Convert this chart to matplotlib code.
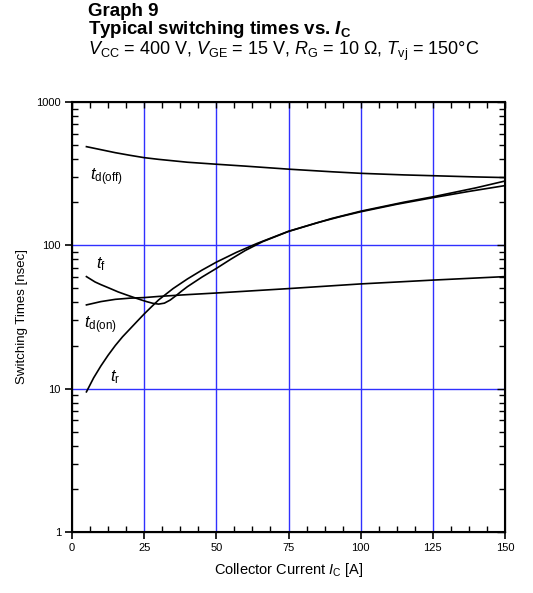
import numpy as np
import matplotlib
matplotlib.use("Agg")
import matplotlib.pyplot as plt
from matplotlib.ticker import MultipleLocator, LogLocator, NullFormatter, FixedLocator

plt.rcParams['font.family'] = ['Liberation Sans', 'DejaVu Sans']
plt.rcParams['mathtext.fontset'] = 'custom'
plt.rcParams['mathtext.rm'] = 'Liberation Sans'
plt.rcParams['mathtext.it'] = 'Liberation Sans:italic'
plt.rcParams['mathtext.bf'] = 'Liberation Sans:bold'
plt.rcParams['mathtext.bfit'] = 'Liberation Sans:bold:italic'

# values (nsec)
x_tdoff = [5, 10, 15, 20, 25, 30, 40, 50, 60, 75, 90, 100, 115, 125, 140, 150]
tdoff = [488, 465, 443, 425, 409, 398, 380, 368, 357, 340, 326, 318, 310, 306, 300, 297]

x_tdon = [5, 10, 15, 20, 25, 30, 40, 50, 75, 100, 125, 150]
tdon = [38.4, 40.5, 42, 42.8, 43.2, 44, 45.3, 46.5, 49.9, 53.8, 57.2, 60.5]

x_tf = [5, 8, 10, 13, 16, 19, 22, 24, 26, 28, 30, 32, 34, 36, 38, 40, 45, 50, 55, 60, 66,
        75, 90, 100, 115, 125, 140, 150]
tf = [60.5, 55.5, 53.2, 50.2, 47.3, 45, 42.9, 41.6, 40.4, 39.4, 38.9, 39.5, 41.5, 44.5, 48,
      51.5, 60, 69, 80, 92, 106, 125, 154, 173, 200, 218, 252, 281]

x_tr = [5, 7.5, 10, 12.5, 15, 17.5, 20, 22.5, 25, 27.5, 30, 35, 40, 45, 50, 57, 64, 75, 85,
        93, 100, 112.5, 125, 137.5, 150]
tr = [9.5, 11.9, 14.4, 17.1, 20.0, 23.0, 26.0, 29.4, 33.2, 37.2, 41.6, 49.9, 58.3, 67.1,
      76.3, 89.4, 102.9, 125.3, 143.9, 158.6, 171.4, 193.4, 215, 237.8, 261]

grid_x = [25, 50, 75, 100, 125]
grid_y = [10, 100]

fig = plt.figure(figsize=(5.33, 5.93), dpi=100)
ax = fig.add_axes([72/533, 1-532/593, (505-72)/533, (532-102)/593])

for gx in grid_x:
    ax.axvline(gx, color='#3030ff', lw=1.0, zorder=1)
for gy in grid_y:
    ax.axhline(gy, color='#3030ff', lw=1.0, zorder=1)

for xs, ys in [(x_tdoff, tdoff), (x_tdon, tdon), (x_tf, tf), (x_tr, tr)]:
    ax.plot(xs, ys, color='black', lw=1.2, zorder=3)

ax.set_yscale('log')
ax.set_xlim(0, 150)
ax.set_ylim(1, 1000)

ax.xaxis.set_major_locator(MultipleLocator(25))
ax.xaxis.set_minor_locator(MultipleLocator(6.25))
ax.yaxis.set_major_locator(FixedLocator([1, 10, 100, 1000]))
ax.yaxis.set_minor_locator(LogLocator(base=10, subs=np.arange(2, 10)))
ax.yaxis.set_minor_formatter(NullFormatter())
ax.set_yticklabels(['1', '10', '100', '1000'])

ax.tick_params(which='major', direction='out', length=5, width=1.2, labelsize=8, pad=3)
ax.tick_params(which='minor', direction='in', length=4, width=1.0)
for s in ax.spines.values():
    s.set_linewidth(1.5)

# inward ticks on top and right
axr = ax.twinx()
axr.set_yscale('log')
axr.set_ylim(1, 1000)
axr.yaxis.set_major_locator(FixedLocator([1, 10, 100, 1000]))
axr.yaxis.set_minor_locator(LogLocator(base=10, subs=np.arange(2, 10)))
axr.tick_params(which='both', direction='in', labelright=False, width=1.0)
axr.tick_params(which='major', length=6)
axr.tick_params(which='minor', length=4)
axr.yaxis.set_minor_formatter(NullFormatter())
axt = ax.twiny()
axt.set_xlim(0, 150)
axt.xaxis.set_major_locator(MultipleLocator(25))
axt.xaxis.set_minor_locator(MultipleLocator(6.25))
axt.tick_params(which='both', direction='in', labeltop=False, length=4, width=1.0)

ax.set_xlabel(r'Collector Current $\mathit{I}_\mathrm{C}$ [A]', fontsize=10.5, labelpad=6)
ax.set_ylabel('Switching Times [nsec]', fontsize=9.5, labelpad=6)

lab = dict(fontsize=12, color='black', va='baseline', ha='left', zorder=5)
ax.text(6.3, 285, r'$\mathit{t}_\mathrm{d(off)}$', **lab)
ax.text(8.3, 69, r'$\mathit{t}_\mathrm{f}$', **lab)
ax.text(4.0, 26.5, r'$\mathit{t}_\mathrm{d(on)}$', **lab)
ax.text(13.0, 11.3, r'$\mathit{t}_\mathrm{r}$',
        bbox=dict(facecolor='white', edgecolor='none', pad=1.0), **lab)

fig.text(88/533, 1-16/593, 'Graph 9', fontsize=13.5, fontweight='bold', va='baseline')
fig.text(88/533, 1-34/593, r'Typical switching times vs. $\mathbfit{I}_\mathbf{C}$',
         fontsize=13.5, fontweight='bold', va='baseline')
fig.text(88/533, 1-55/593,
         r'$\mathit{V}_\mathrm{CC}$ = 400 V, $\mathit{V}_\mathrm{GE}$ = 15 V, '
         r'$\mathit{R}_\mathrm{G}$ = 10 Ω, $\mathit{T}_\mathrm{vj}$ = 150°C',
         fontsize=13, va='baseline')

fig.savefig('out.png', dpi=100)
